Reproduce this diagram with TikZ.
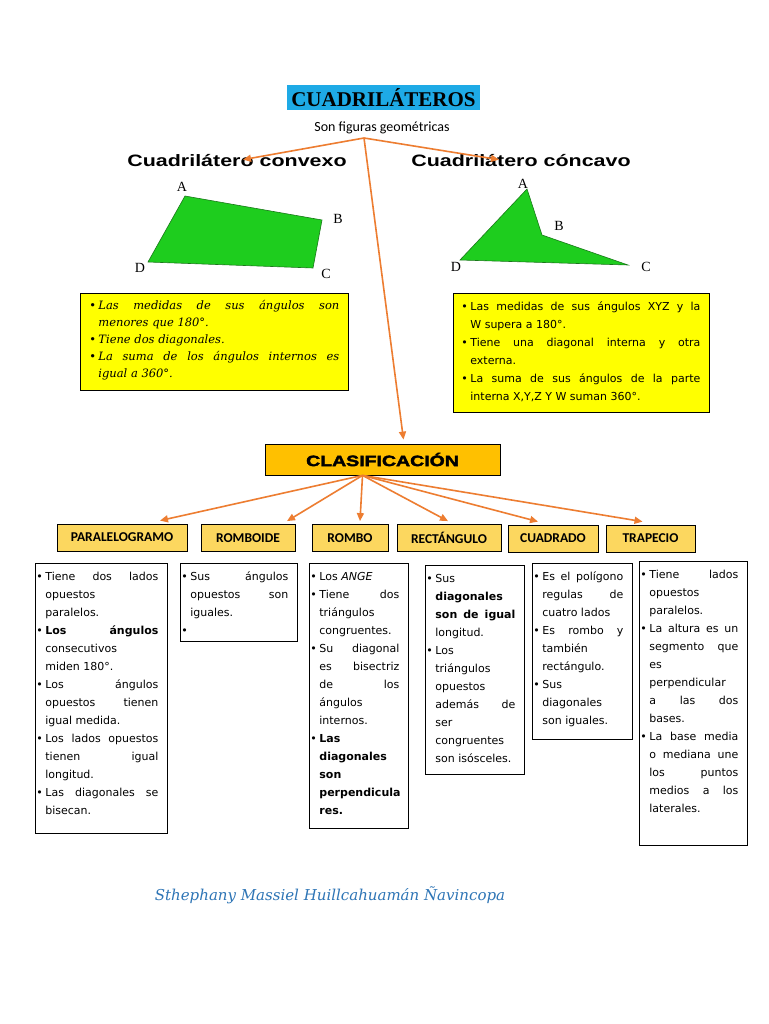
\documentclass[tikz,border=0pt]{standalone}
\usepackage{fontspec}
\setmainfont{Liberation Serif}
\newfontfamily\calibfont{Carlito}
\newfontfamily\widesans[FakeStretch=1.3]{Liberation Sans}
\newfontfamily\heavysans[FakeStretch=1.3,FakeBold=2.5]{Liberation Sans}
\newfontfamily\comicfont{DejaVu Sans}
\newfontfamily\calligfont{DejaVu Serif}
\usetikzlibrary{arrows.meta}

\definecolor{titlecyan}{RGB}{30,170,230}
\definecolor{notayellow}{RGB}{255,255,0}
\definecolor{clasorange}{RGB}{255,192,0}
\definecolor{headgold}{RGB}{252,215,95}
\definecolor{linkorange}{RGB}{237,125,49}
\definecolor{quadgreen}{RGB}{30,205,30}
\definecolor{quadedge}{RGB}{25,120,25}
\definecolor{signblue}{RGB}{46,117,182}

\newcommand{\bul}{\par\noindent\hangindent=9pt\hangafter=1\hbox to 9pt{\upshape\mdseries\textbullet\hfil}\ignorespaces}
\newcommand{\cardtext}[4][1pt]{\vbox to #3{\hsize=#2\relax\leftskip=#1\relax
  \rightskip=9pt\relax\parfillskip=0pt plus 1fil\relax\tolerance=10000\relax
  \hbadness=10000\relax\hfuzz=20pt\relax\vskip-1pt\prevdepth=0pt\relax #4\par\vfil}}

\begin{document}
\begin{tikzpicture}[
    x=1pt, y=-1pt,
    >={Triangle[length=8pt,width=7pt]},
    link/.style={->, line width=1.6pt, draw=linkorange},
    titlebox/.style={fill=titlecyan, minimum width=193pt, minimum height=25pt,
                     inner sep=0pt, font=\bfseries\fontsize{21}{23}\selectfont},
    typelbl/.style={inner sep=1pt, font=\widesans\bfseries\fontsize{16.5}{18}\selectfont},
    vlbl/.style={inner sep=0pt, font=\fontsize{14}{16}\selectfont},
    card/.style={draw, line width=0.8pt, fill=white, inner sep=0pt, anchor=north west,
                 font=\comicfont\fontsize{11}{18}\selectfont},
    note/.style={card, fill=notayellow},
    clasbox/.style={draw, line width=0.8pt, fill=clasorange, minimum width=235pt,
                    minimum height=31pt, inner sep=0pt,
                    font=\heavysans\bfseries\fontsize{15}{17}\selectfont},
    head/.style={draw, line width=0.8pt, fill=headgold, inner sep=0pt, minimum height=27pt,
                 font=\calibfont\bfseries\fontsize{13.5}{15}\selectfont}
  ]
  \fill[white] (0,0) rectangle (768,1024);
  \useasboundingbox (0,0) rectangle (768,1024);

  \node[titlebox] (title) at (383.5,97.5) {CUADRILÁTEROS};
  \node[font=\calibfont\fontsize{14}{16}\selectfont] (sub) at (382,128) {Son figuras geométricas};
  \coordinate (hub) at (364,138);

  \node[typelbl] (convex) at (237,161) {Cuadrilátero convexo};
  \node[typelbl] (concave) at (521,161) {Cuadrilátero cóncavo};

  \filldraw[fill=quadgreen, draw=quadedge, line width=0.6pt]
    (185,196) -- (322,220) -- (313,268) -- (148,262) -- cycle;
  \node[vlbl] (cxA) at (182,187) {A};
  \node[vlbl] (cxB) at (338,219) {B};
  \node[vlbl] (cxC) at (326,274) {C};
  \node[vlbl] (cxD) at (140,268) {D};

  \filldraw[fill=quadgreen, draw=quadedge, line width=0.6pt]
    (527,189) -- (542,235) -- (628,265) -- (460,260) -- cycle;
  \node[vlbl] (ccA) at (523,184) {A};
  \node[vlbl] (ccB) at (559,226) {B};
  \node[vlbl] (ccC) at (646,267) {C};
  \node[vlbl] (ccD) at (456,267) {D};

  \node[note, font=\calligfont\itshape\fontsize{11.5}{17}\selectfont] (convexnote) at (80,293)
    {\cardtext[9pt]{268pt}{97pt}{%
      \bul Las medidas de sus ángulos son\linebreak menores que 180°.
      \bul Tiene dos diagonales.
      \bul La suma de los ángulos internos es\linebreak igual a 360°.}};
  \node[note] (concavenote) at (453,293)
    {\cardtext[8pt]{256pt}{119pt}{%
      \bul Las medidas de sus ángulos XYZ y la\linebreak W supera a 180°.
      \bul Tiene una diagonal interna y otra\linebreak externa.
      \bul La suma de sus ángulos de la parte\linebreak interna X,Y,Z Y W suman 360°.}};

  \node[clasbox] (clasif) at (382.5,459.5) {CLASIFICACIÓN};
  \coordinate (fan) at ([xshift=-20pt]clasif.south);

  \draw[link] (hub) -- ([xshift=6pt,yshift=-6pt]convex.north);
  \draw[link] (hub) -- ([xshift=-22pt,yshift=-6pt]concave.north);
  \draw[link] (hub) -- ([xshift=21pt,yshift=4pt]clasif.north);

  \node[head, minimum width=130pt] (para) at (122,537.5) {PARALELOGRAMO};
  \node[head, minimum width=94pt] (romboide) at (248,538) {ROMBOIDE};
  \node[head, minimum width=76pt] (rombo) at (350,538) {ROMBO};
  \node[head, minimum width=104pt] (rect) at (449,538) {RECTÁNGULO};
  \node[head, minimum width=90pt] (cuad) at (553,538.5) {CUADRADO};
  \node[head, minimum width=89pt] (trap) at (650.5,538.5) {TRAPECIO};

  \foreach \hd/\dx in {para/38, romboide/39, rombo/10, rect/-1, cuad/-15, trap/-8}
    \draw[link] (fan) -- ([xshift=\dx pt,yshift=3pt]\hd.north);

  \node[card] (paratxt) at (35,563)
    {\cardtext{132pt}{270pt}{%
      \bul Tiene dos lados\linebreak opuestos\linebreak paralelos.
      \bul \textbf{Los ángulos}\linebreak consecutivos\linebreak miden 180°.
      \bul Los ángulos\linebreak opuestos tienen\linebreak igual medida.
      \bul Los lados opuestos\linebreak tienen igual\linebreak longitud.
      \bul Las diagonales se\linebreak bisecan.}};
  \node[card] (romboidetxt) at (180,563)
    {\cardtext{117pt}{78pt}{%
      \bul Sus ángulos\linebreak opuestos son\linebreak iguales.
      \bul \mbox{}}};
  \node[card] (rombotxt) at (309,563)
    {\cardtext{99pt}{265pt}{%
      \bul Los \textit{ANGE}
      \bul Tiene dos\linebreak triángulos\linebreak congruentes.
      \bul Su diagonal\linebreak es bisectriz\linebreak de los\linebreak ángulos\linebreak internos.
      \bul \textbf{Las\linebreak diagonales\linebreak son\linebreak perpendicula\linebreak res.}}};
  \node[card] (recttxt) at (425,565)
    {\cardtext{99pt}{209pt}{%
      \bul Sus\linebreak \textbf{diagonales\linebreak son de igual}\linebreak longitud.
      \bul Los\linebreak triángulos\linebreak opuestos\linebreak además de\linebreak ser\linebreak congruentes\linebreak son isósceles.}};
  \node[card] (cuadtxt) at (532,563)
    {\cardtext{100pt}{176pt}{%
      \bul Es el polígono\linebreak regulas de\linebreak cuatro lados
      \bul Es rombo y\linebreak también\linebreak rectángulo.
      \bul Sus\linebreak diagonales\linebreak son iguales.}};
  \node[card] (traptxt) at (639,561)
    {\cardtext{108pt}{284pt}{%
      \bul Tiene lados\linebreak opuestos\linebreak paralelos.
      \bul La altura es un\linebreak segmento que\linebreak es\linebreak perpendicular\linebreak a las dos\linebreak bases.
      \bul La base media\linebreak o mediana une\linebreak los puntos\linebreak medios a los\linebreak laterales.}};

  \node[text=signblue, font=\calligfont\itshape\fontsize{15}{17}\selectfont] (autor) at (330,895)
    {Sthephany Massiel Huillcahuamán Ñavincopa};
\end{tikzpicture}
\end{document}
